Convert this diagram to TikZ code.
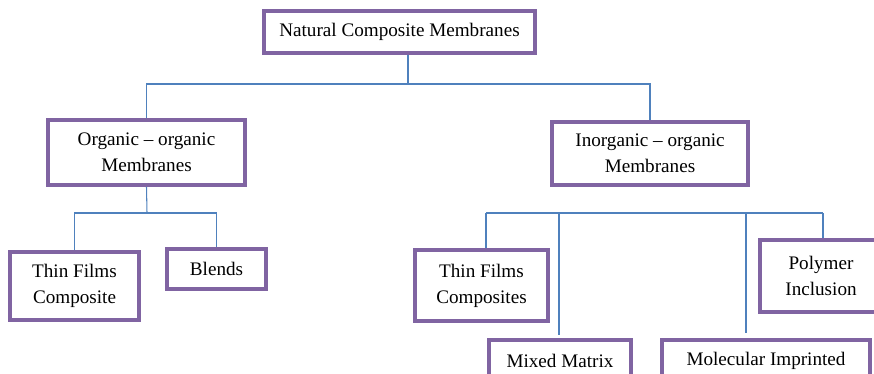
\documentclass[tikz,border=0pt]{standalone}
\usepackage{fontspec}
\setmainfont{Liberation Serif}
\usepackage{tikz}
\usetikzlibrary{calc}
\usetikzlibrary{positioning}
\definecolor{boxpurple}{HTML}{8064A2}
\definecolor{linkblue}{HTML}{4F81BD}

\begin{document}
\begin{tikzpicture}[x=0.02cm, y=-0.02cm,
		membox/.style={draw=boxpurple, line width=2pt, fill=white, align=center, inner sep=0pt,
			font=\fontsize{10.9}{14.8}\selectfont},
		link/.style={draw=linkblue, line width=0.6pt}]
		\clip (0,0) rectangle (874,373);

		\path
		(399.5,32.0) node[membox, minimum width=5.42cm, minimum height=0.84cm] (ncm) {Natural Composite Membranes}
		(146.5,152.5) node[membox, minimum width=3.94cm, minimum height=1.30cm] (org) {Organic -- organic\\Membranes}
		(650.0,153.5) node[membox, minimum width=3.92cm, minimum height=1.26cm] (inorg) {Inorganic -- organic\\Membranes}
		(74.5,286.0) node[membox, minimum width=2.58cm, minimum height=1.36cm] (tfc) {Thin Films\\Composite}
		(216.5,269.0) node[membox, minimum width=1.98cm, minimum height=0.80cm] (blends) {Blends}
		(481.5,285.5) node[membox, minimum width=2.66cm, minimum height=1.42cm] (tfcs) {Thin Films\\Composites}
		(560.0,361.0) node[membox, minimum width=2.84cm, minimum height=0.84cm] (mixed) {Mixed Matrix}
		(766.0,361.0) node[membox, minimum width=4.16cm, minimum height=0.84cm] (molec) {Molecular Imprinted}
		(821.0,276.0) node[membox, minimum width=2.44cm, minimum height=1.44cm] (poly) {Polymer\\Inclusion};

		% first level
		\coordinate (top) at (408,84);
		\draw[link] (ncm.south -| top) -- (top);
		\draw[link] (org.north) |- (top) -| (inorg.north);

		% organic branch
		\coordinate (lb) at (147,213);
		\draw[link] (org.south) -- (lb);
		\draw[link] (tfc.north) |- (lb) -| (blends.north);

		% inorganic branch
		\coordinate (rb1) at (486,213);
		\coordinate (rb2) at (559,213);
		\coordinate (rb3) at (746,213);
		\coordinate (rb4) at (823,213);
		\draw[link] (rb1) -- (rb4);
		\draw[link] (rb1) -- (tfcs.north -| rb1);
		\draw[link] (rb2) -- ($(mixed.north -| rb2)+(0,-3)$);
		\draw[link] (rb3) -- ($(molec.north -| rb3)+(0,-5)$);
		\draw[link] (rb4) -- (poly.north -| rb4);
	\end{tikzpicture}
\end{document}
